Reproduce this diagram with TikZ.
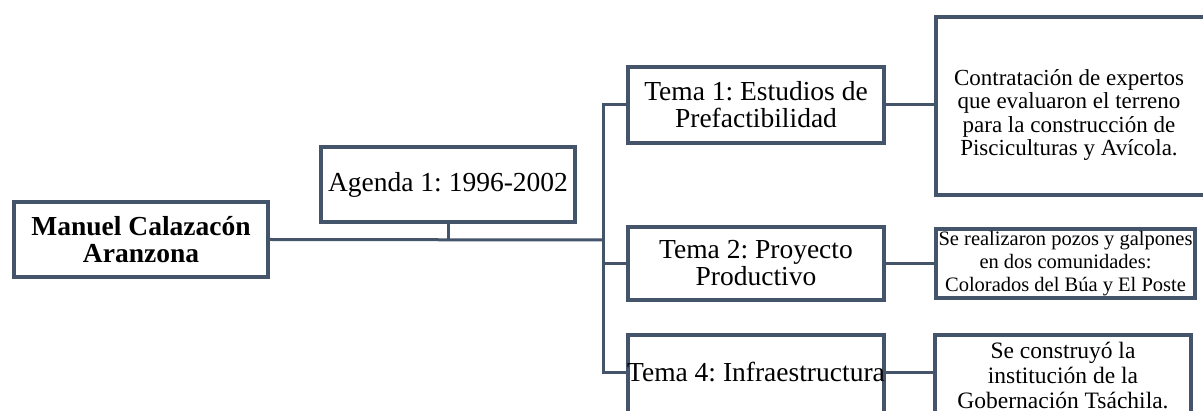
\documentclass[tikz,border=0pt]{standalone}
\usepackage{fontspec}
\setmainfont{Liberation Serif}
\frenchspacing
\definecolor{slate}{HTML}{44546A}
\tikzset{
  box/.style={draw=slate, line width=4pt, fill=white, inner sep=0pt, align=center, text=black},
  big/.style={font=\fontsize{27.5}{27}\selectfont},
  mid/.style={font=\fontsize{23}{23.5}\selectfont},
  small/.style={font=\fontsize{20.5}{23}\selectfont},
  plain/.style={inner sep=0pt, align=center, text=black},
  link/.style={draw=slate, line width=3pt}
}
\begin{document}
\begin{tikzpicture}[x=1pt,y=-1pt]
\useasboundingbox (0,0) rectangle (1203,411);
\clip (0,0) rectangle (1203,411);
% nodes
\node[box, font=\fontsize{27.5}{27}\selectfont\bfseries, minimum width=254pt, minimum height=75pt] (man) at (141,239.5) {Manuel Calazacón\\Aranzona};
\node[box, big, minimum width=254pt, minimum height=75pt] (ag) at (448,184.5) {Agenda 1: 1996-2002};
\node[box, big, minimum width=256pt, minimum height=76pt] (t1) at (756,105) {Tema 1: Estudios de\\Prefactibilidad};
\node[box, big, minimum width=256pt, minimum height=73pt] (t2) at (756,263.5) {Tema 2: Proyecto\\Productivo};
\node[box, big, minimum width=256pt, minimum height=82pt] (t4) at (756,376) {};
\node[plain, big] (t4t) at (756,372) {Tema 4: Infraestructura};
\node[box, minimum width=284pt, minimum height=178pt] (r1) at (1078,106) {};
\node[plain, mid] (r1t) at (1069,115) {Contratación de expertos\\que evaluaron el terreno\\para la construcción de\\Pisciculturas y Avícola.};
\node[box, small, minimum width=259pt, minimum height=69pt] (r2) at (1065.5,263.5) {Se realizaron pozos y galpones\\en dos comunidades:\\Colorados del Búa y El Poste};
\node[box, minimum width=256pt, minimum height=82pt] (r3) at (1063,376) {};
\node[plain, font=\fontsize{23.5}{25}\selectfont] (r3t) at (1063,375) {Se construyó la\\institución de la\\Gobernación Tsáchila.};
% connectors
\coordinate (bus) at (603,240);
\draw[link] (man.east) -- (bus);
\draw[link] (ag.south) -- (ag.south |- bus);
\draw[link] (t1.west) -| (bus);
\draw[link] (bus) |- (t2.west);
\draw[link] (bus) |- ([yshift=3pt]t4.west);
\draw[link] (t1.east) -- (t1.east -| r1.west);
\draw[link] (t2.east) -- (r2.west);
\draw[link] ([yshift=3pt]t4.east) -- ([yshift=3pt]r3.west);
\end{tikzpicture}
\end{document}
